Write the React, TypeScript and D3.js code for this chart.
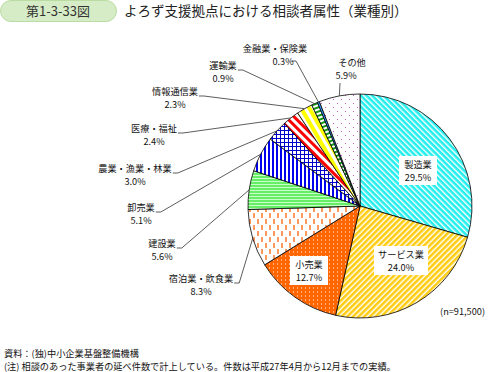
import * as d3 from "d3";

const categories = [
  "製造業", "サービス業", "小売業", "宿泊業・飲食業", "建設業", "卸売業",
  "農業・漁業・林業", "医療・福祉", "情報通信業", "運輸業", "金融業・保険業", "その他",
];
const shares = [29.5, 24.0, 12.7, 8.3, 5.6, 5.1, 3.0, 2.4, 2.3, 0.9, 0.3, 5.9];
const fills = [
  "url(#p-mfg)", "url(#p-svc)", "url(#p-ret)", "url(#p-hot)", "url(#p-con)", "url(#p-whl)",
  "url(#p-agr)", "url(#p-med)", "url(#p-inf)", "url(#p-trn)", "#3399ff", "url(#p-oth)",
];

// label anchors: [x of name centre, y of name baseline, inside?]
const labelPos: [number, number, boolean][] = [
  [418, 168, true], [401, 258, true], [309, 268, true],
  [201, 282, false], [162, 247, false], [141, 211, false],
  [135, 172, false], [154, 132, false], [175, 95, false],
  [223, 69, false], [275, 52, false], [352, 66, false],
];

const cx = 360, cy = 206, r = 112;
const fs = 9.2;
const font = "'Noto Sans CJK JP', 'Noto Sans', sans-serif";

export default function App() {
  const pie = d3.pie<number>().sort(null).value((d) => d);
  const arcs = pie(shares);
  const arc = d3.arc<d3.PieArcDatum<number>>().innerRadius(0).outerRadius(r);
  const edge = (a: d3.PieArcDatum<number>) => {
    const m = (a.startAngle + a.endAngle) / 2;
    return [cx + r * Math.sin(m), cy - r * Math.cos(m)];
  };

  return (
    <svg width={488} height={372} style={{ position: "absolute", left: 0, top: 0 }} fontFamily={font}>
      <defs>
        <pattern id="p-mfg" width={4} height={4} patternUnits="userSpaceOnUse" patternTransform="rotate(45)">
          <rect width={4} height={4} fill="#fff" />
          <rect width={4} height={2.6} fill="#22eeee" />
        </pattern>
        <pattern id="p-svc" width={4} height={4} patternUnits="userSpaceOnUse" patternTransform="rotate(-45)">
          <rect width={4} height={4} fill="#fff" />
          <rect width={4} height={2.6} fill="#ffcc11" />
        </pattern>
        <pattern id="p-ret" width={4} height={4} patternUnits="userSpaceOnUse">
          <rect width={4} height={4} fill="#ff6600" />
          <rect x={1} y={1} width={1} height={2} fill="#ffb080" />
        </pattern>
        <pattern id="p-hot" width={8} height={12} patternUnits="userSpaceOnUse">
          <rect width={8} height={12} fill="#fff" />
          <rect x={1} y={1} width={2} height={5} fill="#ff9a5c" />
          <rect x={5} y={7} width={2} height={5} fill="#ff9a5c" />
        </pattern>
        <pattern id="p-con" width={3} height={3} patternUnits="userSpaceOnUse">
          <rect width={3} height={3} fill="#66ee66" />
          <rect y={2} width={3} height={1} fill="#c8ffc8" />
        </pattern>
        <pattern id="p-whl" width={4} height={4} patternUnits="userSpaceOnUse">
          <rect width={4} height={4} fill="#fff" />
          <rect width={2} height={4} fill="#0000ee" />
        </pattern>
        <pattern id="p-agr" width={4} height={4} patternUnits="userSpaceOnUse">
          <rect width={4} height={4} fill="#fff" />
          <rect width={1} height={4} fill="#0000cc" />
          <rect width={4} height={1} fill="#0000cc" />
        </pattern>
        <pattern id="p-med" width={6} height={6} patternUnits="userSpaceOnUse" patternTransform="rotate(45)">
          <rect width={6} height={6} fill="#fff" />
          <rect width={6} height={3} fill="#ff0000" />
        </pattern>
        <pattern id="p-inf" width={7} height={7} patternUnits="userSpaceOnUse" patternTransform="rotate(60)">
          <rect width={7} height={7} fill="#fff" />
          <rect width={7} height={4} fill="#ffff00" />
        </pattern>
        <pattern id="p-trn" width={4} height={4} patternUnits="userSpaceOnUse" patternTransform="rotate(-20)">
          <rect width={4} height={4} fill="#fff" />
          <rect width={4} height={2} fill="#119911" />
        </pattern>
        <pattern id="p-oth" width={8} height={8} patternUnits="userSpaceOnUse">
          <rect width={8} height={8} fill="#fff" />
          <rect x={1} y={1} width={1} height={1} fill="#cc55cc" />
          <rect x={5} y={5} width={1} height={1} fill="#cc55cc" />
        </pattern>
      </defs>

      {/* title */}
      <rect x={0.5} y={0.5} width={116} height={21} rx={10.5} fill="#d6ecc6" stroke="#b9dca3" />
      <text x={58} y={15.5} textAnchor="middle" fontSize={13} fill="#333">第1-3-33図</text>
      <text x={124} y={16} fontSize={13.5} fill="#222">よろず支援拠点における相談者属性（業種別）</text>

      <g transform={`translate(${cx},${cy})`}>
        {arcs.map((a, i) => (
          <path key={i} d={arc(a) ?? ""} fill={fills[i]} stroke="#000" strokeWidth={0.8} />
        ))}
      </g>

      {arcs.map((a, i) => {
        const [lx, ly, inside] = labelPos[i];
        const name = categories[i];
        const pct = `${shares[i].toFixed(1)}%`;
        const w = name.length * fs;
        if (inside) {
          const bw = Math.max(w, 30) + 8;
          return (
            <g key={i} fontSize={fs} fill="#111">
              <rect x={lx - bw / 2} y={ly - 12} width={bw} height={29} fill="#fff" />
              <text x={lx} y={ly} textAnchor="middle">{name}</text>
              <text x={lx} y={ly + 13} textAnchor="middle">{pct}</text>
            </g>
          );
        }
        const [ex, ey] = edge(a);
        let path: string;
        if (name === "その他") {
          path = `M${lx - 12},${ly + 17}L${ex},${ey}`;
        } else if (name === "金融業・保険業") {
          const sx = lx + 17, sy = ly + 9;
          path = `M${sx},${sy}L${sx + 4},${sy}L${ex},${ey}`;
        } else {
          const sx = lx + w / 2 + 1, sy = ly + 1;
          path = `M${sx},${sy}L${sx + 5},${sy}L${ex},${ey}`;
        }
        const px = name === "金融業・保険業" ? lx + 8 : name === "その他" ? lx - 6 : lx;
        return (
          <g key={i} fontSize={fs} fill="#111">
            <path d={path} fill="none" stroke="#333" strokeWidth={0.8} />
            <text x={lx} y={ly} textAnchor="middle">{name}</text>
            <text x={px} y={ly + 13} textAnchor="middle">{pct}</text>
          </g>
        );
      })}

      <text x={485} y={315} textAnchor="end" fontSize={fs} fill="#111">(n=91,500)</text>
      <text x={4} y={357} fontSize={fs} fill="#111">資料：(独)中小企業基盤整備機構</text>
      <text x={4} y={370} fontSize={fs} fill="#111">(注) 相談のあった事業者の延べ件数で計上している。件数は平成27年4月から12月までの実績。</text>
    </svg>
  );
}
